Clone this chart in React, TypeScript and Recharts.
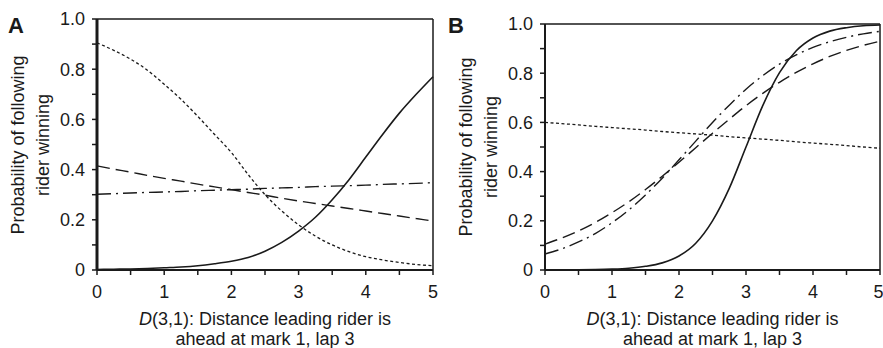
import React from "react";
import { LineChart, Line, XAxis, YAxis, ReferenceLine } from "recharts";

// distance D(3,1), sampled every 0.25
const distance = [0, 0.25, 0.5, 0.75, 1, 1.25, 1.5, 1.75, 2, 2.25, 2.5, 2.75, 3, 3.25, 3.5, 3.75, 4, 4.25, 4.5, 4.75, 5];

// panel A
const aSolid = [0.002, 0.003, 0.004, 0.006, 0.009, 0.012, 0.017, 0.025, 0.035, 0.05, 0.075, 0.11, 0.155, 0.21, 0.28, 0.36, 0.45, 0.54, 0.625, 0.7, 0.77];
const aDotted = [0.905, 0.875, 0.84, 0.796, 0.74, 0.68, 0.612, 0.54, 0.468, 0.38, 0.3, 0.235, 0.18, 0.135, 0.1, 0.073, 0.053, 0.04, 0.03, 0.022, 0.017];
const aDashed = [0.415, 0.402, 0.39, 0.377, 0.365, 0.354, 0.342, 0.331, 0.32, 0.309, 0.298, 0.286, 0.275, 0.265, 0.255, 0.245, 0.235, 0.225, 0.215, 0.205, 0.195];
const aDashDot = [0.302, 0.304, 0.307, 0.309, 0.311, 0.313, 0.316, 0.318, 0.32, 0.322, 0.325, 0.327, 0.329, 0.332, 0.334, 0.336, 0.338, 0.341, 0.343, 0.345, 0.348];

// panel B
const bSolid = [0.0002, 0.0005, 0.0009, 0.0018, 0.0037, 0.0074, 0.015, 0.029, 0.057, 0.109, 0.2, 0.332, 0.5, 0.668, 0.802, 0.891, 0.943, 0.971, 0.985, 0.993, 0.996];
const bDotted = [0.6, 0.595, 0.59, 0.584, 0.579, 0.574, 0.569, 0.563, 0.558, 0.553, 0.548, 0.542, 0.537, 0.532, 0.527, 0.521, 0.516, 0.511, 0.506, 0.5, 0.495];
const bDashed = [0.105, 0.13, 0.159, 0.193, 0.233, 0.277, 0.327, 0.381, 0.438, 0.497, 0.556, 0.613, 0.668, 0.718, 0.763, 0.803, 0.838, 0.868, 0.893, 0.913, 0.93];
const bDashDot = [0.065, 0.086, 0.114, 0.148, 0.192, 0.244, 0.305, 0.373, 0.448, 0.524, 0.6, 0.67, 0.735, 0.79, 0.837, 0.874, 0.905, 0.928, 0.946, 0.96, 0.97];

const xTicks = [0, 0.5, 1, 1.5, 2, 2.5, 3, 3.5, 4, 4.5, 5];
const yTicks = [0, 0.1, 0.2, 0.3, 0.4, 0.5, 0.6, 0.7, 0.8, 0.9, 1];
const yTickLabels: Record<string, string> = { "0": "0", "0.2": "0.2", "0.4": "0.4", "0.6": "0.6", "0.8": "0.8", "1": "1.0" };

const FONT = '"Liberation Sans", Arial, Helvetica, sans-serif';
const INK = "#1a1a1a";

const buildRows = (solid: number[], dotted: number[], dashed: number[], dashDot: number[]) =>
  distance.map((x, i) => ({ x, solid: solid[i], dotted: dotted[i], dashed: dashed[i], dashDot: dashDot[i] }));

type PanelProps = {
  letter: string;
  left: number;
  width: number;
  top: number;
  yAxisWidth: number;
  rightMargin: number;
  axisWidth: number;
  rows: ReturnType<typeof buildRows>;
};

const tickStyle = { fontSize: 18, fill: INK, fontFamily: FONT };

const Panel = ({ letter, left, width, top, yAxisWidth, rightMargin, axisWidth, rows }: PanelProps) => {
  const plotLeft = left + yAxisWidth;
  const plotRight = left + width - rightMargin;
  const plotMid = (plotLeft + plotRight) / 2;
  const vMid = (top + 270) / 2;
  return (
    <>
      <div style={{ position: "absolute", left, top: 0 }}>
        <LineChart width={width} height={348} data={rows} margin={{ top, right: rightMargin, bottom: 48, left: 0 }}>
          <XAxis
            type="number"
            dataKey="x"
            domain={[0, 5]}
            ticks={xTicks}
            tickFormatter={(v: number) => (Number.isInteger(v) ? String(v) : "")}
            tickSize={5}
            tickMargin={10}
            height={30}
            tick={tickStyle}
            axisLine={{ stroke: INK, strokeWidth: 2 }}
            tickLine={{ stroke: INK, strokeWidth: 1.5 }}
          />
          <YAxis
            type="number"
            domain={[0, 1]}
            ticks={yTicks}
            tickFormatter={(v: number) => yTickLabels[String(v)] ?? ""}
            width={yAxisWidth}
            tickSize={5}
            tickMargin={7}
            tick={tickStyle}
            axisLine={{ stroke: INK, strokeWidth: axisWidth }}
            tickLine={{ stroke: INK, strokeWidth: 1.5 }}
          />
          <ReferenceLine y={1} stroke={INK} strokeWidth={1.5} />
          <ReferenceLine x={5} stroke={INK} strokeWidth={1.5} />
          <Line type="monotone" dataKey="dotted" stroke={INK} strokeWidth={1.3} strokeDasharray="3 2.5" dot={false} isAnimationActive={false} />
          <Line type="monotone" dataKey="dashed" stroke={INK} strokeWidth={1.4} strokeDasharray="13 6" dot={false} isAnimationActive={false} />
          <Line type="monotone" dataKey="dashDot" stroke={INK} strokeWidth={1.4} strokeDasharray="14 5 2 5" dot={false} isAnimationActive={false} />
          <Line type="monotone" dataKey="solid" stroke={INK} strokeWidth={1.6} dot={false} isAnimationActive={false} />
        </LineChart>
      </div>
      <div style={{ position: "absolute", left: left + 8, top: 13, fontFamily: FONT, fontWeight: "bold", fontSize: 22, color: INK }}>
        {letter}
      </div>
      <div
        style={{
          position: "absolute",
          left: plotLeft - 66 - 120,
          top: vMid - 25,
          width: 240,
          height: 50,
          lineHeight: "25px",
          textAlign: "center",
          fontFamily: FONT,
          fontSize: 18,
          color: INK,
          transform: "rotate(-90deg)",
          whiteSpace: "nowrap",
        }}
      >
        Probability of following
        <br />
        rider winning
      </div>
      <div
        style={{
          position: "absolute",
          left: plotMid - 160,
          top: 309,
          width: 320,
          lineHeight: "20px",
          textAlign: "center",
          fontFamily: FONT,
          fontSize: 18,
          color: INK,
          whiteSpace: "nowrap",
        }}
      >
        <i>D</i>(3,1): Distance leading rider is
        <br />
        ahead at mark 1, lap 3
      </div>
    </>
  );
};

export default function App() {
  const rowsA = buildRows(aSolid, aDotted, aDashed, aDashDot);
  const rowsB = buildRows(bSolid, bDotted, bDashed, bDashDot);
  return (
    <div style={{ position: "absolute", left: 0, top: 0, width: 883, height: 348, background: "#fff", overflow: "hidden" }}>
      <Panel letter="A" left={0} width={440} top={19} yAxisWidth={97} rightMargin={7} axisWidth={3} rows={rowsA} />
      <Panel letter="B" left={440} width={443} top={24} yAxisWidth={105} rightMargin={3} axisWidth={2} rows={rowsB} />
    </div>
  );
}
